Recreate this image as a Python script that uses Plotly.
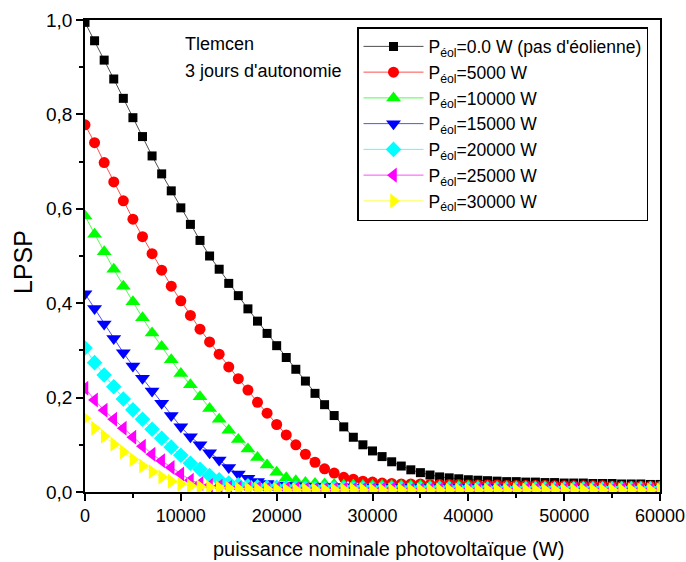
import plotly.graph_objects as go

# x values: nominal PV power (W)
pv_power = [i * 1000 for i in range(61)]

lpsp_0 = [0.995, 0.956, 0.915, 0.875, 0.834, 0.793, 0.753, 0.712, 0.674, 0.638,
          0.602, 0.567, 0.533, 0.500, 0.472, 0.442, 0.416, 0.388, 0.362, 0.336,
          0.310, 0.285, 0.260, 0.235, 0.209, 0.185, 0.162, 0.138, 0.116, 0.100,
          0.087, 0.075, 0.064, 0.055, 0.047, 0.041, 0.036, 0.032, 0.030, 0.028,
          0.026, 0.025, 0.024, 0.023, 0.022, 0.022, 0.021, 0.021, 0.020, 0.020,
          0.019, 0.019, 0.019, 0.018, 0.018, 0.018, 0.017, 0.017, 0.017, 0.016,
          0.016]
lpsp_5000 = [0.778, 0.740, 0.698, 0.657, 0.617, 0.578, 0.541, 0.505, 0.470, 0.436,
             0.405, 0.374, 0.345, 0.318, 0.292, 0.265, 0.240, 0.216, 0.190, 0.167,
             0.143, 0.121, 0.100, 0.080, 0.063, 0.049, 0.040, 0.031, 0.027, 0.023,
             0.021, 0.019, 0.018, 0.017, 0.017, 0.017, 0.016, 0.016, 0.016, 0.016,
             0.015, 0.015, 0.015, 0.015, 0.014, 0.014, 0.014, 0.014, 0.014, 0.013,
             0.013, 0.013, 0.013, 0.013, 0.013, 0.012, 0.012, 0.012, 0.012, 0.012,
             0.012]
lpsp_10000 = [0.585, 0.546, 0.509, 0.472, 0.436, 0.403, 0.369, 0.337, 0.308, 0.280,
              0.251, 0.227, 0.202, 0.177, 0.154, 0.131, 0.111, 0.091, 0.073, 0.057,
              0.042, 0.030, 0.024, 0.020, 0.018, 0.017, 0.016, 0.015, 0.015, 0.014,
              0.014, 0.014, 0.013, 0.013, 0.013, 0.013, 0.012, 0.012, 0.012, 0.012,
              0.012, 0.012, 0.011, 0.011, 0.011, 0.011, 0.011, 0.011, 0.011, 0.010,
              0.010, 0.010, 0.010, 0.010, 0.010, 0.010, 0.010, 0.010, 0.010, 0.010,
              0.010]
lpsp_15000 = [0.420, 0.389, 0.356, 0.325, 0.295, 0.267, 0.241, 0.214, 0.188, 0.162,
              0.138, 0.117, 0.100, 0.083, 0.068, 0.052, 0.038, 0.029, 0.022, 0.018,
              0.015, 0.014, 0.013, 0.012, 0.012, 0.011, 0.011, 0.011, 0.010, 0.010,
              0.010, 0.010, 0.010, 0.010, 0.009, 0.009, 0.009, 0.009, 0.009, 0.009,
              0.009, 0.009, 0.009, 0.009, 0.008, 0.008, 0.008, 0.008, 0.008, 0.008,
              0.008, 0.008, 0.008, 0.008, 0.008, 0.008, 0.008, 0.008, 0.008, 0.008,
              0.008]
lpsp_20000 = [0.305, 0.274, 0.248, 0.223, 0.197, 0.174, 0.154, 0.133, 0.114, 0.095,
              0.078, 0.061, 0.048, 0.035, 0.026, 0.019, 0.015, 0.013, 0.011, 0.010,
              0.010, 0.009, 0.009, 0.009, 0.008, 0.008, 0.008, 0.008, 0.008, 0.008,
              0.007, 0.007, 0.007, 0.007, 0.007, 0.007, 0.007, 0.007, 0.007, 0.007,
              0.007, 0.007, 0.006, 0.006, 0.006, 0.006, 0.006, 0.006, 0.006, 0.006,
              0.006, 0.006, 0.006, 0.006, 0.006, 0.006, 0.006, 0.006, 0.006, 0.006,
              0.006]
lpsp_25000 = [0.220, 0.195, 0.173, 0.154, 0.135, 0.116, 0.097, 0.080, 0.066, 0.052,
              0.038, 0.025, 0.018, 0.014, 0.012, 0.010, 0.009, 0.008, 0.008, 0.007,
              0.007, 0.007, 0.007, 0.006, 0.006, 0.006, 0.006, 0.006, 0.006, 0.006,
              0.006, 0.006, 0.006, 0.005, 0.005, 0.005, 0.005, 0.005, 0.005, 0.005,
              0.005, 0.005, 0.005, 0.005, 0.005, 0.005, 0.005, 0.005, 0.005, 0.005,
              0.005, 0.005, 0.005, 0.005, 0.005, 0.005, 0.005, 0.005, 0.005, 0.005,
              0.005]
lpsp_30000 = [0.156, 0.135, 0.118, 0.101, 0.085, 0.069, 0.055, 0.043, 0.032, 0.023,
              0.017, 0.013, 0.011, 0.010, 0.009, 0.008, 0.007, 0.007, 0.006, 0.006,
              0.006, 0.005, 0.005, 0.005, 0.005, 0.005, 0.005, 0.005, 0.005, 0.005,
              0.004, 0.004, 0.004, 0.004, 0.004, 0.004, 0.004, 0.004, 0.004, 0.004,
              0.004, 0.004, 0.004, 0.004, 0.004, 0.004, 0.004, 0.004, 0.004, 0.004,
              0.004, 0.004, 0.004, 0.004, 0.004, 0.004, 0.004, 0.004, 0.004, 0.004,
              0.004]

series_names = ["P<sub>éol</sub>=0.0 W (pas d'éolienne)", "P<sub>éol</sub>=5000 W",
                "P<sub>éol</sub>=10000 W", "P<sub>éol</sub>=15000 W",
                "P<sub>éol</sub>=20000 W", "P<sub>éol</sub>=25000 W",
                "P<sub>éol</sub>=30000 W"]
series_values = [lpsp_0, lpsp_5000, lpsp_10000, lpsp_15000, lpsp_20000, lpsp_25000, lpsp_30000]
colors = ["#000000", "#ff0000", "#00ff00", "#0000ff", "#00ffff", "#ff00ff", "#ffff00"]
symbols = ["square", "circle", "triangle-up", "triangle-down", "diamond", "triangle-left", "triangle-right"]
sizes = [9, 11, 13, 13, 12, 13, 13]

x_tickvals = [0, 10000, 20000, 30000, 40000, 50000, 60000]
x_ticktext = ["0", "10000", "20000", "30000", "40000", "50000", "60000"]
y_tickvals = [0.0, 0.2, 0.4, 0.6, 0.8, 1.0]
y_ticktext = ["0,0", "0,2", "0,4", "0,6", "0,8", "1,0"]

FONT = "Liberation Sans, Arial, sans-serif"

L, R, T, B = 85, 26, 20, 70
W, H = 686, 562
pw, ph = W - L - R, H - T - B


def px_x(p):
    return (p - L) / pw


def px_y(p):
    return (H - B - p) / ph


fig = go.Figure()
for i, (name, vals) in enumerate(zip(series_names, series_values)):
    fig.add_trace(go.Scatter(
        x=pv_power, y=vals, name=name, mode="lines+markers",
        line=dict(color=colors[i], width=0.7),
        marker=dict(symbol=symbols[i], color=colors[i], size=sizes[i], line=dict(width=0)),
    ))

fig.add_annotation(x=px_x(183), y=px_y(44), xref="paper", yref="paper", text="Tlemcen",
                   showarrow=False, xanchor="left", yanchor="middle",
                   font=dict(family=FONT, size=18, color="black"))
fig.add_annotation(x=px_x(183), y=px_y(71), xref="paper", yref="paper", text="3 jours d'autonomie",
                   showarrow=False, xanchor="left", yanchor="middle",
                   font=dict(family=FONT, size=18, color="black"))
# axis titles
fig.add_annotation(x=px_x(388), y=px_y(549), xref="paper", yref="paper",
                   text="puissance nominale photovoltaïque (W)",
                   showarrow=False, xanchor="center", yanchor="middle",
                   font=dict(family=FONT, size=20, color="black"))
fig.add_annotation(x=px_x(23), y=px_y(262), xref="paper", yref="paper",
                   text="LPSP", textangle=-90,
                   showarrow=False, xanchor="center", yanchor="middle",
                   font=dict(family=FONT, size=25, color="black"))

fig.update_layout(
    width=W, height=H,
    margin=dict(l=L, r=R, t=T, b=B, autoexpand=False),
    paper_bgcolor="white", plot_bgcolor="white",
    font=dict(family=FONT, size=18, color="black"),
    showlegend=True,
    legend=dict(
        x=px_x(357), y=px_y(27), xanchor="left", yanchor="top",
        bordercolor="black", borderwidth=1.5, bgcolor="white",
        font=dict(family=FONT, size=17.5, color="black"),
        itemsizing="trace", itemwidth=60,
    ),
    xaxis=dict(
        range=[0, 60000], showgrid=False, zeroline=False,
        showline=True, linecolor="black", linewidth=1.6, mirror=True,
        ticks="outside", ticklen=7, tickwidth=1.5, tickcolor="black",
        tickmode="array", tickvals=x_tickvals, ticktext=x_ticktext,
        tickfont=dict(size=18),
        minor=dict(dtick=5000, tick0=0, ticks="outside", ticklen=4, tickwidth=1.5, tickcolor="black"),
    ),
    yaxis=dict(
        range=[0, 1.0], showgrid=False, zeroline=False,
        showline=True, linecolor="black", linewidth=1.6, mirror=True,
        ticks="outside", ticklen=7, tickwidth=1.5, tickcolor="black",
        tickmode="array", tickvals=y_tickvals, ticktext=y_ticktext,
        tickfont=dict(size=19),
        minor=dict(dtick=0.1, tick0=0, ticks="outside", ticklen=4, tickwidth=1.5, tickcolor="black"),
    ),
)

fig.write_html("out.html")
